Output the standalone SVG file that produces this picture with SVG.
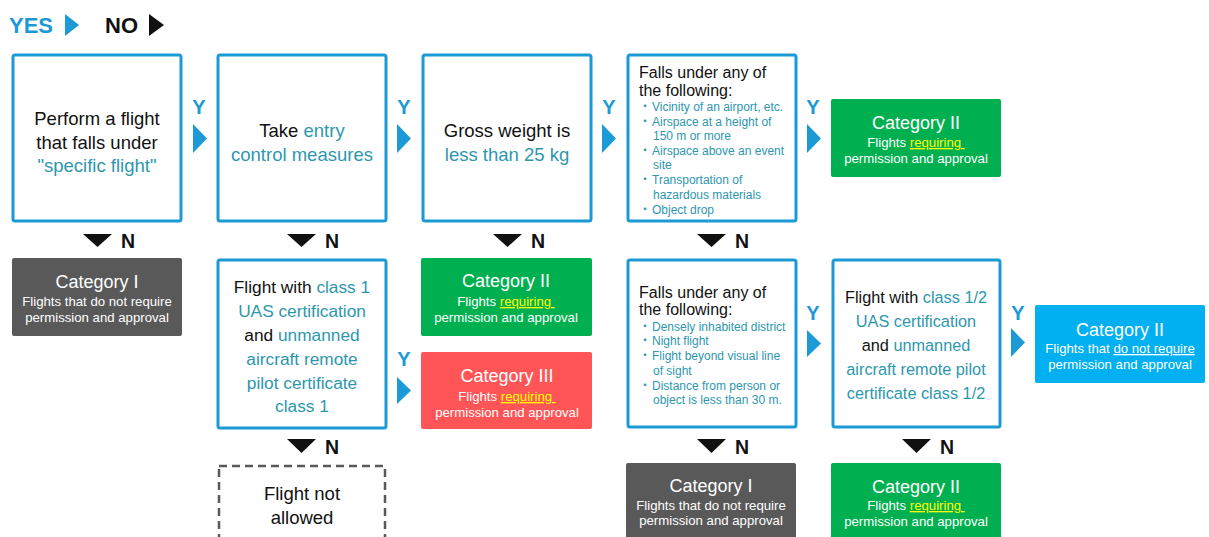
<svg xmlns="http://www.w3.org/2000/svg" width="1209" height="537" viewBox="0 0 1209 537">
<style>
text{font-family:"Liberation Sans",Arial,"Noto Sans CJK JP",sans-serif}
.q{fill:#fff;stroke:#1b9ad6;stroke-width:3}
.dash{fill:#fff;stroke:#595959;stroke-width:2.5;stroke-dasharray:8 5}
.m{font-size:18.5px;fill:#111;text-anchor:middle}
.h{font-size:16px;fill:#111}
.b{font-size:12px;fill:#2e97ae}
.t{fill:#2e97ae}
.ct{font-size:18px;fill:#fff;text-anchor:middle}
.cs{font-size:13.2px;fill:#fff;text-anchor:middle}
.u{fill:#ffff00;text-decoration:underline}
.uw{text-decoration:underline}
.yl{font-size:20px;font-weight:bold;fill:#1b9ad6;text-anchor:middle}
.nl{font-size:19.5px;font-weight:bold;fill:#111}
.ya{fill:#1b9ad6}
.na{fill:#111}
.gray{fill:#595959}
.green{fill:#00b050}
.red{fill:#ff5556}
.lblue{fill:#00b0f0}
</style>
<rect width="1209" height="537" fill="#fff"/>
<g id="legend">
<text x="9" y="33" style="font-size:22px;font-weight:bold;fill:#1b9ad6">YES</text>
<polygon points="65,14 79,25 65,36" class="ya"/>
<text x="105" y="33" style="font-size:22px;font-weight:bold;fill:#111">NO</text>
<polygon points="149,14 164,25 149,36" class="na"/>
</g>
<g id="n1">
<rect x="13" y="55" width="168" height="166" rx="2" class="q"/>
<text class="m"><tspan x="97" y="125">Perform a flight</tspan><tspan x="97" y="149">that falls under</tspan><tspan x="97" y="172" class="t">"specific flight"</tspan></text>
</g>
<g id="n2">
<rect x="218" y="55" width="168" height="166" rx="2" class="q"/>
<text class="m"><tspan x="302" y="137">Take <tspan class="t">entry</tspan></tspan><tspan x="302" y="161" class="t">control measures</tspan></text>
</g>
<g id="n3">
<rect x="423" y="55" width="168" height="166" rx="2" class="q"/>
<text class="m"><tspan x="507" y="137">Gross weight is</tspan><tspan x="507" y="161" class="t">less than 25 kg</tspan></text>
</g>
<g id="n4">
<rect x="628" y="55" width="168" height="166" rx="2" class="q"/>
<text class="h"><tspan x="639" y="78">Falls under any of</tspan><tspan x="639" y="96">the following:</tspan></text>
<text class="b">
<tspan x="639" y="111">・</tspan><tspan x="652" y="111">Vicinity of an airport, etc.</tspan>
<tspan x="639" y="126">・</tspan><tspan x="652" y="126">Airspace at a height of</tspan>
<tspan x="653" y="140">150 m or more</tspan>
<tspan x="639" y="155">・</tspan><tspan x="652" y="155">Airspace above an event</tspan>
<tspan x="653" y="169">site</tspan>
<tspan x="639" y="184">・</tspan><tspan x="652" y="184">Transportation of</tspan>
<tspan x="653" y="199">hazardous materials</tspan>
<tspan x="639" y="214">・</tspan><tspan x="652" y="214">Object drop</tspan>
</text>
</g>
<g id="c2a">
<rect x="831" y="99" width="170" height="78" rx="2" class="green"/>
<text class="ct" x="916" y="129">Category II</text>
<text class="cs"><tspan x="916" y="147">Flights <tspan class="u">requiring&#160;</tspan></tspan><tspan x="916" y="163">permission and approval</tspan></text>
</g>
<g id="c1a">
<rect x="12" y="258" width="170" height="78" rx="2" class="gray"/>
<text class="ct" x="97" y="288">Category I</text>
<text class="cs"><tspan x="97" y="306">Flights that do not require</tspan><tspan x="97" y="322">permission and approval</tspan></text>
</g>
<g id="n5">
<rect x="218" y="260" width="168" height="168" rx="2" class="q"/>
<text class="m" style="font-size:17.3px"><tspan x="302" y="293">Flight with <tspan class="t">class 1</tspan></tspan><tspan x="302" y="317" class="t">UAS certification</tspan><tspan x="302" y="341">and <tspan class="t">unmanned</tspan></tspan><tspan x="302" y="365" class="t">aircraft remote</tspan><tspan x="302" y="389" class="t">pilot certificate</tspan><tspan x="302" y="412" class="t">class 1</tspan></text>
</g>
<g id="c2b">
<rect x="421" y="258" width="171" height="78" rx="2" class="green"/>
<text class="ct" x="506" y="287">Category II</text>
<text class="cs"><tspan x="506" y="306">Flights <tspan class="u">requiring&#160;</tspan></tspan><tspan x="506" y="322">permission and approval</tspan></text>
</g>
<g id="c3">
<rect x="421" y="352" width="171" height="77" rx="2" class="red"/>
<text class="ct" x="507" y="382">Category III</text>
<text class="cs"><tspan x="507" y="401">Flights <tspan class="u">requiring&#160;</tspan></tspan><tspan x="507" y="417">permission and approval</tspan></text>
</g>
<g id="n6">
<rect x="628" y="260" width="168" height="167" rx="2" class="q"/>
<text class="h"><tspan x="639" y="298">Falls under any of</tspan><tspan x="639" y="315">the following:</tspan></text>
<text class="b">
<tspan x="639" y="331">・</tspan><tspan x="652" y="331">Densely inhabited district</tspan>
<tspan x="639" y="345">・</tspan><tspan x="652" y="345">Night flight</tspan>
<tspan x="639" y="360">・</tspan><tspan x="652" y="360">Flight beyond visual line</tspan>
<tspan x="653" y="375">of sight</tspan>
<tspan x="639" y="390">・</tspan><tspan x="652" y="390">Distance from person or</tspan>
<tspan x="653" y="404">object is less than 30 m.</tspan>
</text>
</g>
<g id="n7">
<rect x="833" y="260" width="167" height="167" rx="2" class="q"/>
<text class="m" style="font-size:16.3px"><tspan x="916" y="303">Flight with <tspan class="t">class 1/2</tspan></tspan><tspan x="916" y="327" class="t">UAS certification</tspan><tspan x="916" y="351">and <tspan class="t">unmanned</tspan></tspan><tspan x="916" y="375" class="t">aircraft remote pilot</tspan><tspan x="916" y="399" class="t">certificate class 1/2</tspan></text>
</g>
<g id="c2c">
<rect x="1035" y="305" width="170" height="78" rx="2" class="lblue"/>
<text class="ct" x="1120" y="336">Category II</text>
<text class="cs"><tspan x="1120" y="353">Flights that <tspan class="uw">do not require</tspan></tspan><tspan x="1120" y="369">permission and approval</tspan></text>
</g>
<g id="n8">
<rect x="219" y="466" width="166" height="80" class="dash"/>
<text class="m"><tspan x="302" y="500">Flight not</tspan><tspan x="302" y="524">allowed</tspan></text>
</g>
<g id="c1b">
<rect x="626" y="463" width="170" height="80" rx="2" class="gray"/>
<text class="ct" x="711" y="492">Category I</text>
<text class="cs"><tspan x="711" y="510">Flights that do not require</tspan><tspan x="711" y="525">permission and approval</tspan></text>
</g>
<g id="c2d">
<rect x="831" y="463" width="170" height="80" rx="2" class="green"/>
<text class="ct" x="916" y="493">Category II</text>
<text class="cs"><tspan x="916" y="510">Flights <tspan class="u">requiring&#160;</tspan></tspan><tspan x="916" y="526">permission and approval</tspan></text>
</g>
<g id="connectors">
<text class="yl" x="199" y="114">Y</text><polygon class="ya" points="193,124 207,138.5 193,153"/>
<text class="yl" x="404" y="114">Y</text><polygon class="ya" points="397,124 411,138.5 397,153"/>
<text class="yl" x="609" y="114">Y</text><polygon class="ya" points="602,124 616,138.5 602,153"/>
<text class="yl" x="813" y="114">Y</text><polygon class="ya" points="807,124 821,138.5 807,153"/>
<text class="yl" x="404" y="366">Y</text><polygon class="ya" points="397,377 411,390.5 397,404"/>
<text class="yl" x="813" y="320">Y</text><polygon class="ya" points="807,330 821,343.5 807,357"/>
<text class="yl" x="1018" y="320">Y</text><polygon class="ya" points="1011,328 1025,342.5 1011,357"/>
<polygon class="na" points="83,234 112,234 97.5,247"/><text class="nl" x="121" y="248">N</text>
<polygon class="na" points="287,234 316,234 301.5,247"/><text class="nl" x="325" y="248">N</text>
<polygon class="na" points="493,234 522,234 507.5,247"/><text class="nl" x="531" y="248">N</text>
<polygon class="na" points="697,234 726,234 711.5,247"/><text class="nl" x="735" y="248">N</text>
<polygon class="na" points="287,439 316,439 301.5,453"/><text class="nl" x="325" y="454">N</text>
<polygon class="na" points="697,439 726,439 711.5,453"/><text class="nl" x="735" y="454">N</text>
<polygon class="na" points="902,439 931,439 916.5,453"/><text class="nl" x="940" y="454">N</text>
</g>
</svg>
